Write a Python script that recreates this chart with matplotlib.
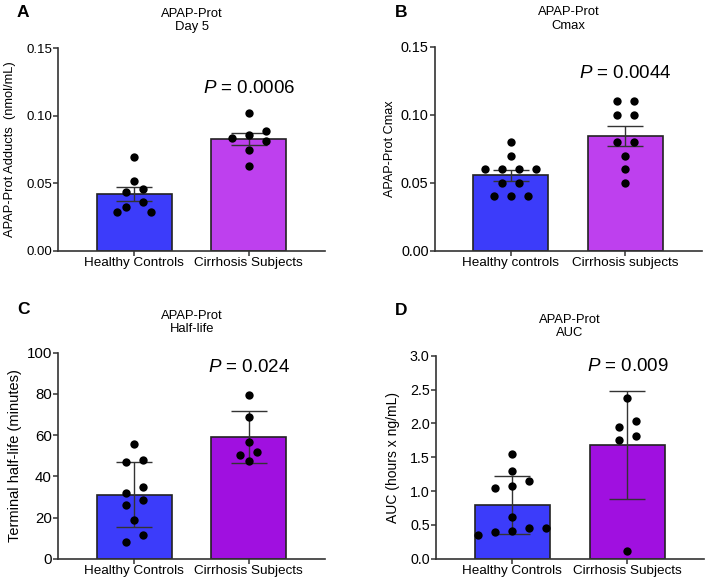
import matplotlib
matplotlib.use('Agg')
import matplotlib.pyplot as plt
import numpy as np

# ==========================================
# Data
# ==========================================
groups_upper = ['Healthy Controls', 'Cirrhosis Subjects']
groups_b = ['Healthy controls', 'Cirrhosis subjects']

# A: APAP-Prot Day 5 (nmol/mL), bars = mean +/- SEM
day5_healthy = [0.0697, 0.0519, 0.0457, 0.0432, 0.0358, 0.0324, 0.0287, 0.0287]
day5_cirrhosis = [0.1018, 0.0890, 0.0860, 0.0838, 0.0813, 0.0746, 0.0628]

# B: APAP-Prot Cmax, bars = mean +/- SEM
cmax_healthy = [0.08, 0.07, 0.06, 0.06, 0.06, 0.06, 0.05, 0.05, 0.04, 0.04, 0.04]
cmax_cirrhosis = [0.11, 0.11, 0.10, 0.10, 0.08, 0.08, 0.07, 0.06, 0.05]

# C: terminal half-life (minutes), bars = mean +/- SD
halflife_healthy = [55.5, 47.9, 47.1, 35.0, 31.9, 28.6, 26.2, 18.8, 11.5, 8.1]
halflife_cirrhosis = [79.4, 68.6, 56.6, 51.8, 50.2, 47.2]

# D: AUC (hours x ng/mL), bars = mean +/- SD
auc_healthy = [1.55, 1.29, 1.15, 1.07, 1.05, 0.61, 0.46, 0.45, 0.41, 0.39, 0.35]
auc_cirrhosis = [2.38, 2.04, 1.95, 1.81, 1.76, 0.11]

p_values = ['0.0006', '0.0044', '0.024', '0.009']

# ==========================================
# Style
# ==========================================
plt.rcParams['font.family'] = ['Liberation Sans', 'DejaVu Sans']
plt.rcParams['mathtext.fontset'] = 'custom'
plt.rcParams['mathtext.rm'] = 'Liberation Sans'
plt.rcParams['mathtext.it'] = 'Liberation Sans:italic'
plt.rcParams['axes.linewidth'] = 1.2
plt.rcParams['axes.edgecolor'] = '#333333'

c_blue = '#3c3cfa'
c_purple_light = '#be40ee'
c_purple_dark = '#a010e0'
c_line = '#333333'

DOT_PX = 8.0       # dot diameter in pixels
STEP_PX = 17.0     # horizontal spacing between dots in one row


def swarm_x(ax, xc, vals):
    """GraphPad-like scatter: bin close values into rows, spread rows symmetrically."""
    vals = np.asarray(vals, dtype=float)
    pts = ax.transData.transform(np.column_stack([np.full(len(vals), xc), vals]))
    ypx = pts[:, 1]
    order = np.argsort(-ypx)
    placed = []  # (xoff_px, ypx)
    xoff = np.zeros(len(vals))
    i = 0
    while i < len(order):
        start = ypx[order[i]]
        row = [order[i]]
        j = i + 1
        while j < len(order) and start - ypx[order[j]] < DOT_PX:
            row.append(order[j])
            j += 1
        row = sorted(row, key=lambda k: ypx[k])
        n = len(row)
        tries = [(STEP_PX, 0), (2 * STEP_PX, 0), (STEP_PX, STEP_PX), (STEP_PX, -STEP_PX),
                 (STEP_PX, 2 * STEP_PX), (STEP_PX, -2 * STEP_PX)]
        for sp, sh in tries:
            cand = [(m - (n - 1) / 2) * sp + sh for m in range(n)]
            ok = all(np.hypot(cx - px, ypx[k] - py) >= DOT_PX
                     for cx, k in zip(cand, row) for px, py in placed)
            if ok:
                break
        for cx, k in zip(cand, row):
            xoff[k] = cx
            placed.append((cx, ypx[k]))
        i = j
    x0 = ax.transData.transform([(0, 0)])[0, 0]
    x1 = ax.transData.transform([(1, 0)])[0, 0]
    return xc + xoff / (x1 - x0)


def panel(ax, data, colors, labels, err, ylim, yticks, fmt, ytick_size, ylabel, ylabel_size,
          labelpad, title, title_pad, ptext, py):
    ax.set_xlim(-0.662, 1.665)
    ax.set_ylim(*ylim)
    xs = np.arange(len(data))
    means = [np.mean(d) for d in data]
    if err == 'sem':
        errs = [np.std(d, ddof=1) / np.sqrt(len(d)) for d in data]
    else:
        errs = [np.std(d, ddof=1) for d in data]
    ax.bar(xs, means, width=0.655, color=colors, edgecolor='#222222', linewidth=1.2, zorder=2)
    ax.errorbar(xs, means, yerr=errs, fmt='none', ecolor=c_line, elinewidth=1.0,
                capsize=13, capthick=1.0, zorder=3)
    for x, d in zip(xs, data):
        ax.plot(swarm_x(ax, x, d), d, 'o', color='black', markersize=6.0,
                markeredgewidth=0, zorder=4, clip_on=False)

    ax.spines['top'].set_visible(False)
    ax.spines['right'].set_visible(False)
    ax.set_yticks(yticks)
    ax.set_yticklabels([fmt.format(t) for t in yticks], fontsize=ytick_size)
    ax.set_xticks(xs)
    ax.set_xticklabels(labels, fontsize=9.7)
    ax.tick_params(axis='both', direction='out', length=3.6, width=1.1, color='#333333', pad=1)
    ax.set_ylabel(ylabel, fontsize=ylabel_size, labelpad=labelpad)
    ax.set_title(title, fontsize=9.4, pad=title_pad, linespacing=1.15)
    ax.text(1, py, r'$\it{P}$ = ' + ptext, ha='center', va='center', fontsize=13.5)


fig = plt.figure(figsize=(7.09, 5.82), dpi=100)
axA = fig.add_axes([0.0822, 0.5692, 0.3762, 0.3478])
axB = fig.add_axes([0.6135, 0.5692, 0.3762, 0.3506])
axC = fig.add_axes([0.0822, 0.0400, 0.3762, 0.3540])
axD = fig.add_axes([0.6150, 0.0400, 0.3780, 0.3488])

panel(axA, [day5_healthy, day5_cirrhosis], [c_blue, c_purple_light], groups_upper, 'sem',
      (0, 0.15), [0, 0.05, 0.10, 0.15], '{:.2f}', 9.5, 'APAP-Prot Adducts  (nmol/mL)', 9.3, 7.5,
      'APAP-Prot\nDay 5', 13, p_values[0], 0.12)
panel(axB, [cmax_healthy, cmax_cirrhosis], [c_blue, c_purple_light], groups_b, 'sem',
      (0, 0.15), [0, 0.05, 0.10, 0.15], '{:.2f}', 10.4, 'APAP-Prot Cmax', 9.1, 3.6,
      'APAP-Prot\nCmax', 13, p_values[1], 0.13)
panel(axC, [halflife_healthy, halflife_cirrhosis], [c_blue, c_purple_dark], groups_upper, 'sd',
      (0, 100), [0, 20, 40, 60, 80, 100], '{:.0f}', 10.8, 'Terminal half-life (minutes)', 10.5, 3,
      'APAP-Prot\nHalf-life', 15, p_values[2], 92.9)
panel(axD, [auc_healthy, auc_cirrhosis], [c_blue, c_purple_dark], groups_upper, 'sd',
      (0, 3.0), [0, 0.5, 1.0, 1.5, 2.0, 2.5, 3.0], '{:.1f}', 10.3, 'AUC (hours x ng/mL)', 10, 7,
      'APAP-Prot\nAUC', 14, p_values[3], 2.84)

for letter, x, y in [('A', 0.024, 0.9785), ('B', 0.557, 0.9785),
                     ('C', 0.024, 0.469), ('D', 0.557, 0.466)]:
    fig.text(x, y, letter, fontsize=12.5, fontweight='bold', ha='left', va='center')

plt.savefig('out.png', dpi=100)
